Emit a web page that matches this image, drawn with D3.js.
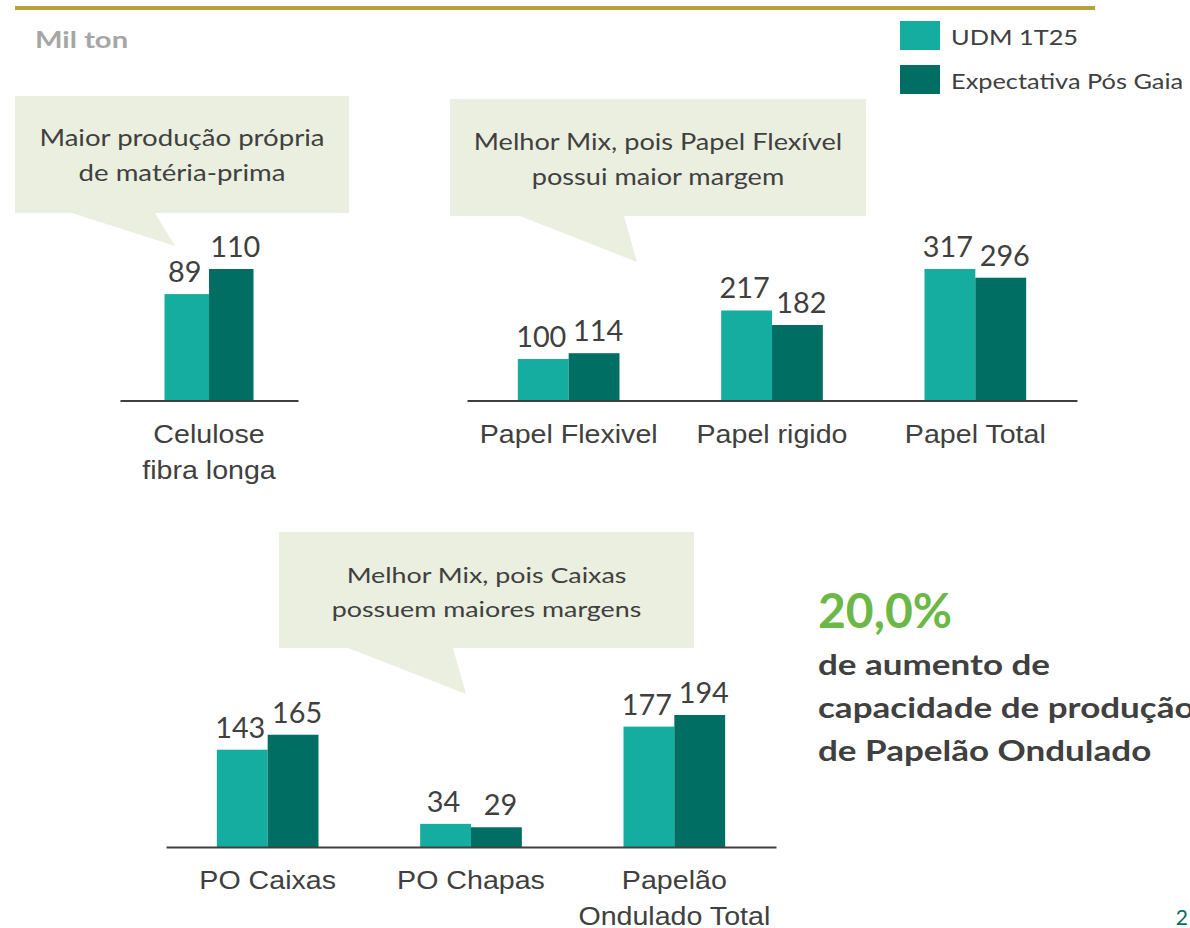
<!DOCTYPE html>
<html>
<head>
<meta charset="utf-8">
<script src="https://cdn.jsdelivr.net/npm/d3@7"></script>
<style>
  html, body { margin: 0; padding: 0; background: #ffffff; }
  svg { display: block; font-family: Lato, "Open Sans", sans-serif; }
</style>
</head>
<body>
<svg id="chart" width="1190" height="928"></svg>
<script>
// Series
const seriesNames = ["UDM 1T25", "Expectativa Pós Gaia"];
const seriesColors = ["#14ADA0", "#016E63"];

// Celulose panel
const celuloseCategories = ["Celulose|fibra longa"];
const celuloseUdm = [89];
const celuloseGaia = [110];

// Papel panel
const papelCategories = ["Papel Flexivel", "Papel rigido", "Papel Total"];
const papelUdm = [100, 217, 317];
const papelGaia = [114, 182, 296];

// Papelão Ondulado panel
const poCategories = ["PO Caixas", "PO Chapas", "Papelão|Ondulado Total"];
const poUdm = [143, 34, 177];
const poGaia = [165, 29, 194];

// Callout notes
const calloutCelulose = ["Maior produção própria", "de matéria-prima"];
const calloutPapel = ["Melhor Mix, pois Papel Flexível", "possui maior margem"];
const calloutPO = ["Melhor Mix, pois Caixas", "possuem maiores margens"];

// Highlight
const highlightValue = "20,0%";
const highlightLines = ["de aumento de", "capacidade de produção", "de Papelão Ondulado"];

const unitLabel = "Mil ton";
const pageNumber = "2";

const svg = d3.select("#chart");
const textColor = "#404040";
const calloutFill = "#EBEFDF";

// Text helper: places a label with an optional horizontal stretch
function label(parent, o) {
  return parent.append("text")
    .attr("transform", `translate(${o.x},${o.y}) scale(${o.sx || 1},1)`)
    .attr("text-anchor", o.anchor || "start")
    .attr("font-size", o.size)
    .attr("font-weight", o.weight || 400)
    .attr("fill", o.fill || textColor)
    .text(o.text);
}

// Top rule
svg.append("rect").attr("x", 15).attr("y", 6).attr("width", 1080).attr("height", 4).attr("fill", "#B8A03E");

label(svg, { x: 35, y: 48, size: 23, weight: 700, fill: "#A6A6A6", sx: 1.27, text: unitLabel });

// Legend
const legend = svg.append("g");
seriesNames.forEach((name, i) => {
  const yTop = 21 + i * 44;
  legend.append("rect").attr("x", 900).attr("y", yTop).attr("width", 40).attr("height", 29).attr("fill", seriesColors[i]);
  label(legend, { x: 951, y: yTop + 24, size: 21.5, sx: 1.18, text: name });
});

// Speech-bubble callout
function callout(box, pointer, lines, fontSize, sx, firstBaseline, lineGap) {
  const g = svg.append("g");
  const [x0, y0, x1, y1] = box;
  const [bl, br, tx, ty] = pointer;
  const path = `M${x0},${y0}H${x1}V${y1}H${br}L${tx},${ty}L${bl},${y1}H${x0}Z`;
  g.append("path").attr("d", path).attr("fill", calloutFill);
  const cx = (x0 + x1) / 2;
  lines.forEach((t, i) => {
    label(g, { x: cx, y: firstBaseline + i * lineGap, anchor: "middle", size: fontSize, sx, text: t });
  });
}

// Value labels sit slightly apart so neighbouring numbers don't touch
const labelShift = [-2, 4];

// Grouped bar panel
function panel(categories, udm, gaia, xRange, baseY, barHeight) {
  const g = svg.append("g");
  const x0 = d3.scaleBand().domain(categories).range(xRange).paddingInner(0.5).paddingOuter(0.25);
  const x1 = d3.scaleBand().domain(seriesNames).range([0, x0.bandwidth()]);
  const maxV = d3.max(udm.concat(gaia));
  const y = d3.scaleLinear().domain([0, maxV]).range([baseY, baseY - barHeight]);

  const rows = categories.map((c, i) => ({ cat: c, vals: [udm[i], gaia[i]] }));
  const groups = g.selectAll("g.cat").data(rows).join("g").attr("class", "cat")
    .attr("transform", d => `translate(${x0(d.cat)},0)`);

  groups.selectAll("rect").data(d => d.vals.map((v, i) => ({ v, s: seriesNames[i], i })))
    .join("rect")
    .attr("x", d => x1(d.s))
    .attr("y", d => y(d.v))
    .attr("width", x1.bandwidth())
    .attr("height", d => y(0) - y(d.v))
    .attr("fill", d => seriesColors[d.i]);

  groups.each(function(d) {
    const grp = d3.select(this);
    d.vals.forEach((v, i) => {
      label(grp, {
        x: x1(seriesNames[i]) + x1.bandwidth() / 2 + labelShift[i], y: y(v) - 12,
        anchor: "middle", size: 28, sx: 1.03, text: v
      });
    });
  });

  // Category axis
  const axis = d3.axisBottom(x0).tickSize(0).tickPadding(0).tickFormat("");
  const ag = g.append("g").attr("transform", `translate(0,${baseY})`).call(axis);
  ag.select(".domain").attr("stroke", "#404040").attr("stroke-width", 2.2);
  ag.selectAll(".tick").each(function(c) {
    const tick = d3.select(this);
    c.split("|").forEach((p, i) => {
      label(tick, { x: 0, y: 42 + i * 36, anchor: "middle", size: 26, sx: 1.1, text: p });
    });
  });
}

callout([15, 96, 349, 213], [72, 155, 175, 246], calloutCelulose, 23, 1.2, 146, 35);
callout([450, 99, 866, 216], [520, 624, 637, 262], calloutPapel, 23, 1.18, 150, 35);
callout([279, 532, 694, 648], [348, 453, 466, 694], calloutPO, 22, 1.22, 583, 34);

panel(celuloseCategories, celuloseUdm, celuloseGaia, [120, 298], 400.5, 131.5);
panel(papelCategories, papelUdm, papelGaia, [467, 1077], 400.5, 131.5);
panel(poCategories, poUdm, poGaia, [166, 776], 847, 132);

// Highlight block
label(svg, { x: 818, y: 628, size: 48, weight: 700, fill: "#6BB846", text: highlightValue });
highlightLines.forEach((t, i) => {
  label(svg, { x: 818, y: 675 + i * 43, size: 28, weight: 700, sx: 1.25, text: t });
});

label(svg, { x: 1188, y: 925, anchor: "end", size: 21, fill: "#016E63", text: pageNumber });
</script>
</body>
</html>
